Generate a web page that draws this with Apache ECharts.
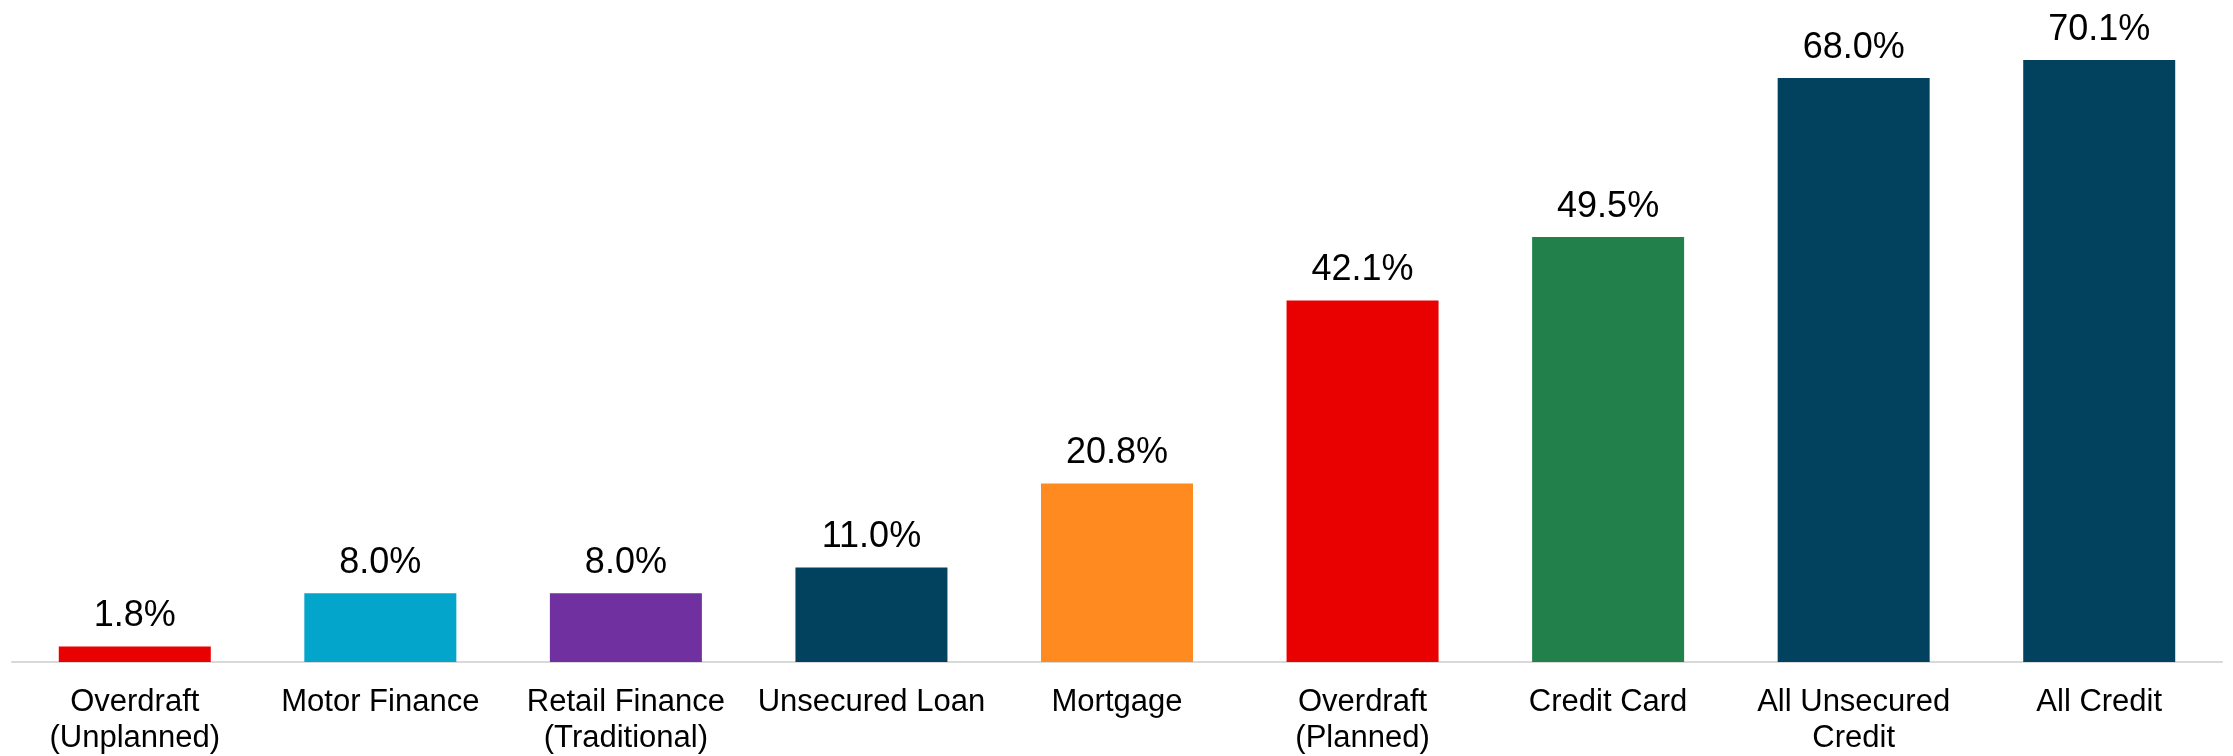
<!DOCTYPE html>
<html>
<head>
<meta charset="utf-8">
<style>
  html, body { margin: 0; padding: 0; background: #ffffff; }
  #chart { width: 2233px; height: 756px; }
</style>
<script src="https://cdn.jsdelivr.net/npm/echarts@6/dist/echarts.min.js"></script>
</head>
<body>
<div id="chart"></div>
<script>
// Share of products (%) per credit type
const categories = [
  'Overdraft\n(Unplanned)',
  'Motor Finance',
  'Retail Finance\n(Traditional)',
  'Unsecured Loan',
  'Mortgage',
  'Overdraft\n(Planned)',
  'Credit Card',
  'All Unsecured\nCredit',
  'All Credit'
];
const values = [1.8, 8.0, 8.0, 11.0, 20.8, 42.1, 49.5, 68.0, 70.1];
const barColors = ['#e90000', '#03a6ca', '#7030a0', '#02425f', '#fe8a20', '#e90000', '#22814a', '#02425f', '#02425f'];

const chart = echarts.init(document.getElementById('chart'), null, { renderer: 'canvas' });

chart.setOption({
  animation: false,
  backgroundColor: '#ffffff',
  grid: { left: 12, right: 11, top: 18, bottom: 94, containLabel: false },
  xAxis: {
    type: 'category',
    data: categories,
    axisLine: { show: true, lineStyle: { color: '#d9d9d9', width: 2 } },
    axisTick: { show: false },
    axisLabel: {
      interval: 0,
      margin: 22,
      color: '#000000',
      fontFamily: 'Liberation Sans, Arial, sans-serif',
      fontSize: 31,
      lineHeight: 36
    }
  },
  yAxis: {
    type: 'value',
    min: 0,
    max: 75,
    show: false,
    splitLine: { show: false }
  },
  series: [{
    type: 'bar',
    data: values.map((v, i) => ({ value: v, itemStyle: { color: barColors[i] } })),
    barWidth: 152,
    label: {
      show: true,
      position: 'top',
      distance: 12,
      color: '#000000',
      fontFamily: 'Liberation Sans, Arial, sans-serif',
      fontSize: 36,
      formatter: p => p.value.toFixed(1) + '%'
    }
  }]
});
</script>
</body>
</html>
